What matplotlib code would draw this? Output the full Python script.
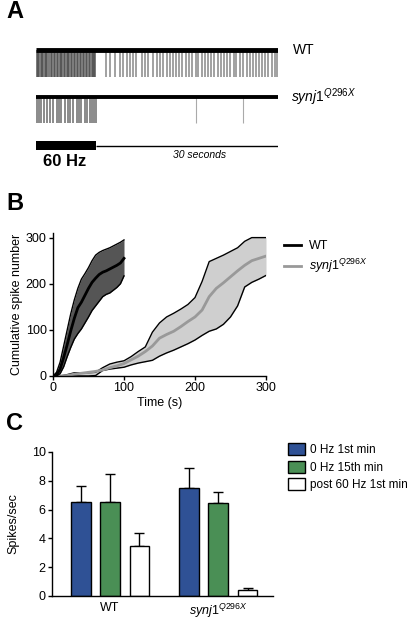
import numpy as np
import matplotlib
matplotlib.use("Agg")
import matplotlib.pyplot as plt
from matplotlib.lines import Line2D

plt.rcParams['font.family'] = ['Liberation Sans', 'DejaVu Sans']
plt.rcParams['mathtext.fontset'] = 'custom'
plt.rcParams['mathtext.rm'] = 'Liberation Sans'
plt.rcParams['mathtext.it'] = 'Liberation Sans:italic'

# ---- panel A: spike times (s) ----
wt_spikes_stim = [0.1, 0.3, 0.5, 0.8, 1.0, 1.2, 1.5, 1.7, 1.9, 2.2, 2.4, 2.7, 2.9, 3.1,
                  3.4, 3.6, 3.9, 4.1, 4.3, 4.6, 4.8, 5.1, 5.3, 5.5, 5.8, 6.0, 6.3, 6.5,
                  6.8, 7.0, 7.2, 7.5, 7.7, 8.0, 8.2, 8.5, 8.7, 8.9, 9.2, 9.4, 9.6, 9.8]
wt_spikes_post = [11.6, 12.3, 13.1, 13.9, 14.4, 15.0, 15.5, 16.0, 16.6, 17.5, 18.0, 18.5,
                  19.3, 20.0, 20.5, 21.0, 21.6, 22.1, 22.7, 23.2, 23.6, 24.2, 24.8, 25.3,
                  25.8, 26.4, 26.8, 27.4, 27.9, 28.5, 28.9, 29.5, 30.1, 30.6, 31.0, 31.6,
                  32.1, 32.7, 33.1, 33.7, 34.2, 34.8, 35.3, 35.8, 36.3, 36.9, 37.4, 37.9,
                  38.4, 39.0, 39.5, 39.9]
syn_spikes_stim = [0.2, 0.5, 0.8, 1.4, 1.8, 2.3, 2.8, 3.4, 3.8, 4.2, 4.8, 5.3, 5.7, 6.1,
                   6.7, 7.1, 7.5, 8.1, 8.5, 8.9, 9.3, 9.6, 9.9]
syn_spikes_post = [26.4, 34.2]
trace_len = 40
stim_len = 10

# ---- panel B: cumulative spikes ----
wt_t = np.arange(0, 101, 5)
wt_upper = [0, 8, 30, 65, 100, 135, 165, 190, 210, 222, 235, 250, 262, 268, 272, 275,
            278, 282, 286, 290, 295]
wt_mean = [0, 2, 15, 40, 68, 98, 125, 148, 160, 175, 190, 203, 212, 220, 225, 228, 232,
           236, 240, 245, 255]
wt_lower = [0, 0, 5, 20, 42, 62, 80, 92, 102, 115, 128, 142, 152, 162, 172, 177, 180,
            186, 192, 200, 217]

syn_t = np.arange(0, 301, 10)
syn_upper = [0, 0, 3, 7, 7, 7, 8, 18, 26, 30, 33, 42, 53, 63, 95, 115, 128, 136, 145,
             155, 170, 205, 248, 255, 262, 270, 278, 292, 300, 300, 300]
syn_mean = [0, 0, 1, 4, 6, 8, 10, 13, 18, 22, 27, 35, 43, 53, 65, 82, 90, 97, 107, 118,
            128, 143, 172, 190, 202, 215, 228, 240, 250, 255, 260]
syn_lower = [0, 0, 0, 0, 0, 0, 1, 12, 15, 17, 19, 24, 28, 31, 34, 43, 50, 56, 63, 70,
             78, 88, 97, 102, 112, 128, 152, 193, 203, 210, 218]

# ---- panel C: firing rates ----
genotypes = ['WT', r'$\mathit{synj1}^{\mathit{Q296X}}$']
conditions = ['0 Hz 1st min', '0 Hz 15th min', 'post 60 Hz 1st min']
rate_mean = [[6.5, 7.5], [6.55, 6.45], [3.45, 0.4]]
rate_err = [[1.15, 1.4], [1.9, 0.8], [0.95, 0.15]]
bar_colors = ['#2f5195', '#4a8f55', 'white']

W, H = 410, 620
fig = plt.figure(figsize=(W / 100, H / 100), dpi=100)


def px_axes(x0, y0, x1, y1):
    return fig.add_axes([x0 / W, 1 - y1 / H, (x1 - x0) / W, (y1 - y0) / H])


# panel letters
for lab, yy in [('A', 12), ('B', 203), ('C', 423)]:
    fig.text(6 / W, 1 - yy / H, lab, fontsize=17, fontweight='bold', va='center')

# ---------- A ----------
axA = px_axes(36, 40, 278, 175)
axA.set_xlim(0, trace_len)
axA.set_ylim(175, 40)
axA.axis('off')
axA.vlines(wt_spikes_stim, 50, 77, color='#4a4a4a', lw=1.3, alpha=0.8)
axA.vlines(wt_spikes_post, 50, 77, color='#8a8a8a', lw=1.4, alpha=0.8)
axA.hlines(50, 0, trace_len, color='black', lw=3.5)
axA.vlines(syn_spikes_stim, 97, 123, color='#555555', lw=1.2, alpha=0.8)
axA.vlines(syn_spikes_post, 97, 123, color='#aaaaaa', lw=0.8)
axA.hlines(97, 0, trace_len, color='black', lw=2.8)
axA.fill_between([0, stim_len], 141, 150, color='black', lw=0)
axA.hlines(145.5, stim_len, trace_len, color='black', lw=1)
axA.text(stim_len / 2 - 0.2, 162, '60 Hz', fontsize=12, fontweight='bold',
         ha='center', va='center')
axA.text(27, 155, '30 seconds', fontsize=7.5, style='italic', ha='center', va='center')
fig.text(293 / W, 1 - 50 / H, 'WT', fontsize=10, va='center')
fig.text(291 / W, 1 - 97 / H, r'$\mathit{synj1}^{\mathit{Q296X}}$', fontsize=10,
         va='center')

# ---------- B ----------
axB = px_axes(53, 233, 266, 376)
axB.fill_between(syn_t, syn_lower, syn_upper, color='#cfcfcf', lw=0)
axB.plot(syn_t, syn_upper, color='black', lw=1)
axB.plot(syn_t, syn_lower, color='black', lw=1)
axB.plot(syn_t, syn_mean, color='#999999', lw=2)
axB.fill_between(wt_t, wt_lower, wt_upper, color='#555555', lw=0)
axB.plot(wt_t, wt_upper, color='black', lw=1)
axB.plot(wt_t, wt_lower, color='black', lw=1)
axB.plot(wt_t, wt_mean, color='black', lw=2)
axB.set_xlim(0, 300)
axB.set_ylim(0, 310)
axB.set_xticks([0, 100, 200, 300])
axB.set_yticks([0, 100, 200, 300])
axB.set_xlabel('Time (s)', fontsize=9, labelpad=2)
axB.set_ylabel('Cumulative spike number', fontsize=9, labelpad=2)
axB.legend([Line2D([], [], color='black', lw=2), Line2D([], [], color='#999999', lw=2)],
           ['WT', r'$\mathit{synj1}^{\mathit{Q296X}}$'], loc='upper left',
           bbox_to_anchor=(1.03, 1.03), frameon=False, fontsize=9, handlelength=1.4,
           handletextpad=0.6, labelspacing=0.4)

# ---------- C ----------
axC = px_axes(52, 452, 273, 596)
x = np.arange(len(genotypes))
off = 0.273
bw = 0.185
for i, cond in enumerate(conditions):
    xs = x + (i - 1) * off
    axC.bar(xs, rate_mean[i], width=bw, color=bar_colors[i], edgecolor='black',
            lw=1, label=cond, zorder=2)
    axC.errorbar(xs, rate_mean[i], yerr=[np.zeros(len(x)), rate_err[i]], fmt='none',
                 ecolor='black', elinewidth=1, capsize=3.5, capthick=1, zorder=1)
axC.set_xlim(-0.537, 1.509)
axC.set_ylim(0, 10)
axC.set_yticks([0, 2, 4, 6, 8, 10])
axC.set_xticks(x)
axC.set_xticklabels(genotypes)
axC.set_ylabel('Spikes/sec', fontsize=9, labelpad=9)
axC.legend(loc='upper left', bbox_to_anchor=(1.068, 1.06), frameon=False, fontsize=8.5,
           handlelength=1.45, handleheight=1.2, handletextpad=0.45, labelspacing=0.35,
           borderaxespad=0, borderpad=0)

for ax in (axB, axC):
    ax.spines['top'].set_visible(False)
    ax.spines['right'].set_visible(False)
    ax.tick_params(labelsize=9, width=1, length=3, pad=1.5)
    for s in ('left', 'bottom'):
        ax.spines[s].set_linewidth(1)
axC.tick_params(axis='x', length=0, pad=4)

fig.savefig('out.png', dpi=100)
